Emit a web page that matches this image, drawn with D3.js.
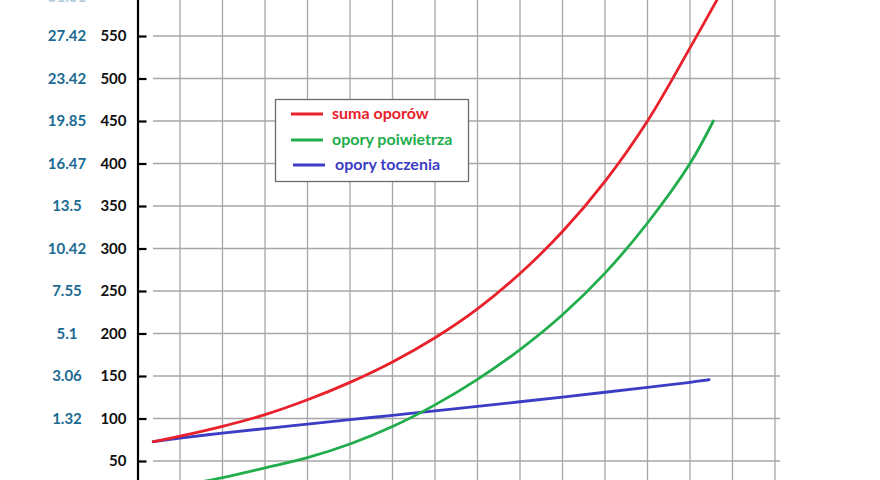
<!DOCTYPE html>
<html>
<head>
<meta charset="utf-8">
<script src="https://cdn.jsdelivr.net/npm/d3@7"></script>
<style>
html,body{margin:0;padding:0;background:#fff;overflow:hidden;}
svg{display:block;}
</style>
</head>
<body>
<svg id="chart" width="880" height="480"></svg>
<script>
// ---- data ----
const yTicks = [50,100,150,200,250,300,350,400,450,500,550,600];
const forceLabels = ["50","100","150","200","250","300","350","400","450","500","550",""];
const gradeLabels = ["", "1.32","3.06","5.1","7.55","10.42","13.5","16.47","19.85","23.42","27.42","31.61"];
const xGrid = [1,2,3,4,5,6,7,8,9,10,11,12,13,14,15];

const sumX   = [0.37,1,2,3,4,5,6,7,8,9,10,11,12,13,13.63];
const sumY   = [72.7,79.2,90.8,104.5,122,142.5,166.5,195,229,270.5,320,379,450,536,592];
const airX   = [0.37,1,2,3,4,5,6,7,8,9,10,11,12,13,13.55];
const airY   = [16,21,30.5,42,54,70,90.5,116,146,181,222,271,330,400,450];
const rollX  = [0.37,1,2,3,4,5,6,7,8,9,10,11,12,13,13.45];
const rollY  = [72.7,77,82.8,88.2,93.4,98.6,103.8,109,114.3,119.7,125.2,130.9,136.7,142.6,145.6];

const legendItems = ["suma oporów","opory poiwietrza","opory toczenia"];
const colors = ["#e8212b","#22ad4c","#3c3cc4"];

// ---- chart ----
const svg = d3.select("#chart");
const x = d3.scaleLinear().domain([0,15]).range([137.5,775]);
const y = d3.scaleLinear().domain([0,600]).range([503.5,-6.5]);

// grid
const grid = svg.append("g").attr("stroke","#a6a6a6").attr("stroke-width",1.3);
grid.selectAll("line.h").data(yTicks).join("line")
  .attr("x1",153).attr("x2",780)
  .attr("y1",d=>y(d)).attr("y2",d=>y(d));
grid.selectAll("line.v").data(xGrid).join("line")
  .attr("x1",d=>x(d)).attr("x2",d=>x(d))
  .attr("y1",0).attr("y2",480);

// y axis
const axis = d3.axisRight(y).tickValues(yTicks).tickSize(9).tickFormat("");
const ag = svg.append("g").attr("transform","translate(137.5,0)").call(axis);
ag.select(".domain").attr("stroke","#000").attr("stroke-width",2.2);
ag.selectAll(".tick line").attr("stroke","#000").attr("stroke-width",2.2);

// black labels
svg.append("g").selectAll("text").data(yTicks).join("text")
  .attr("x",126.5).attr("y",d=>y(d)).attr("dy","0.36em")
  .attr("text-anchor","end")
  .attr("font-family","Lato, sans-serif").attr("font-weight","bold").attr("font-size",15)
  .attr("fill","#111")
  .text((d,i)=>forceLabels[i]);

// blue labels
svg.append("g").selectAll("text").data(yTicks).join("text")
  .attr("x",67).attr("y",(d,i)=>y(d) + (i===yTicks.length-1 ? 3 : 0)).attr("dy","0.36em")
  .attr("text-anchor","middle")
  .attr("font-family","Lato, sans-serif").attr("font-weight","bold").attr("font-size",15)
  .attr("fill","#1b6a92")
  .attr("opacity",(d,i)=> i===yTicks.length-1 ? 0.35 : 1)
  .text((d,i)=>gradeLabels[i]);

// curves
const line = d3.line().x(d=>x(d[0])).y(d=>y(d[1])).curve(d3.curveCatmullRom.alpha(0.5));
const series = [
  d3.zip(sumX,sumY),
  d3.zip(airX,airY),
  d3.zip(rollX,rollY)
];
const plot = svg.append("g");
[2,1,0].forEach(i=>{
  plot.append("path").datum(series[i])
    .attr("fill","none").attr("stroke",colors[i]).attr("stroke-width",2.8)
    .attr("stroke-linecap","round")
    .attr("d",line);
});

// legend
const lg = svg.append("g");
lg.append("rect").attr("x",275.5).attr("y",99.5).attr("width",193).attr("height",82)
  .attr("fill","#fff").attr("stroke","#6b6b6b").attr("stroke-width",1.3);
const ly = [114,140,165];
const lx1 = [291,291,293];
const tx = [332,332,335];
legendItems.forEach((t,i)=>{
  lg.append("line").attr("x1",lx1[i]).attr("x2",lx1[i]+32).attr("y1",ly[i]).attr("y2",ly[i])
    .attr("stroke",colors[i]).attr("stroke-width",3);
  lg.append("text").attr("x",tx[i]).attr("y",ly[i]).attr("dy","0.3em")
    .attr("font-family","Lato, sans-serif").attr("font-weight","bold").attr("font-size",16)
    .attr("fill",colors[i]).text(t);
});
</script>
</body>
</html>
